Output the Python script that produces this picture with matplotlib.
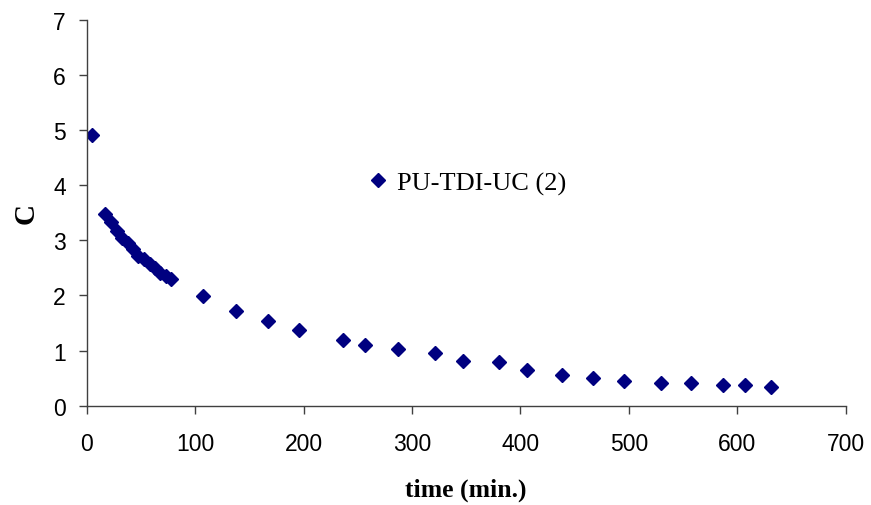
import matplotlib.pyplot as plt

# time (min.) and C values
time_min = [5, 17, 22, 28, 33, 38, 43, 47, 53, 58, 63, 68, 73, 78,
            107, 138, 167, 196, 236, 257, 287, 321, 347, 380,
            406, 438, 467, 496, 530, 557, 587, 607, 631]
c_vals = [4.91, 3.47, 3.34, 3.17, 3.05, 2.96, 2.85, 2.72, 2.66, 2.57, 2.49, 2.41, 2.35, 2.29,
          1.99, 1.71, 1.54, 1.37, 1.20, 1.10, 1.03, 0.96, 0.82, 0.79,
          0.65, 0.55, 0.51, 0.45, 0.41, 0.42, 0.38, 0.38, 0.34]
series_name = 'PU-TDI-UC (2)'
x_ticks = [0, 100, 200, 300, 400, 500, 600, 700]
y_ticks = [0, 1, 2, 3, 4, 5, 6, 7]

fig = plt.figure(figsize=(8.71, 5.06), dpi=100)
ax = fig.add_axes([0.0995, 0.1962, 0.8714, 0.7628])

ax.plot(time_min, c_vals, linestyle='none', marker='D', markersize=7,
        color='#000080', label=series_name)

ax.set_xlim(0, 700)
ax.set_ylim(0, 7)
ax.set_xticks(x_ticks)
ax.set_yticks(y_ticks)

for side in ['top', 'right']:
    ax.spines[side].set_visible(False)
for side in ['left', 'bottom']:
    ax.spines[side].set_color('#404040')
    ax.spines[side].set_linewidth(1.0)

ax.tick_params(axis='both', direction='out', length=6, width=1, color='#404040',
               labelsize=16.5)
ax.tick_params(axis='x', pad=13)
ax.tick_params(axis='y', pad=9)
for lbl in ax.get_xticklabels() + ax.get_yticklabels():
    lbl.set_family('Liberation Sans')

ax.set_xlabel('time (min.)', family='Liberation Serif', fontweight='bold',
              fontsize=18.5, labelpad=16)
ax.set_ylabel('C', family='Liberation Serif', fontweight='bold',
              fontsize=21, labelpad=10)

ax.legend(loc='center left', bbox_to_anchor=(0.373, 0.577), frameon=False,
          handlelength=0.6, handletextpad=0.45, borderpad=0, borderaxespad=0,
          markerscale=1.0, prop={'family': 'Liberation Serif', 'size': 19})

fig.savefig('out.png', dpi=100)
